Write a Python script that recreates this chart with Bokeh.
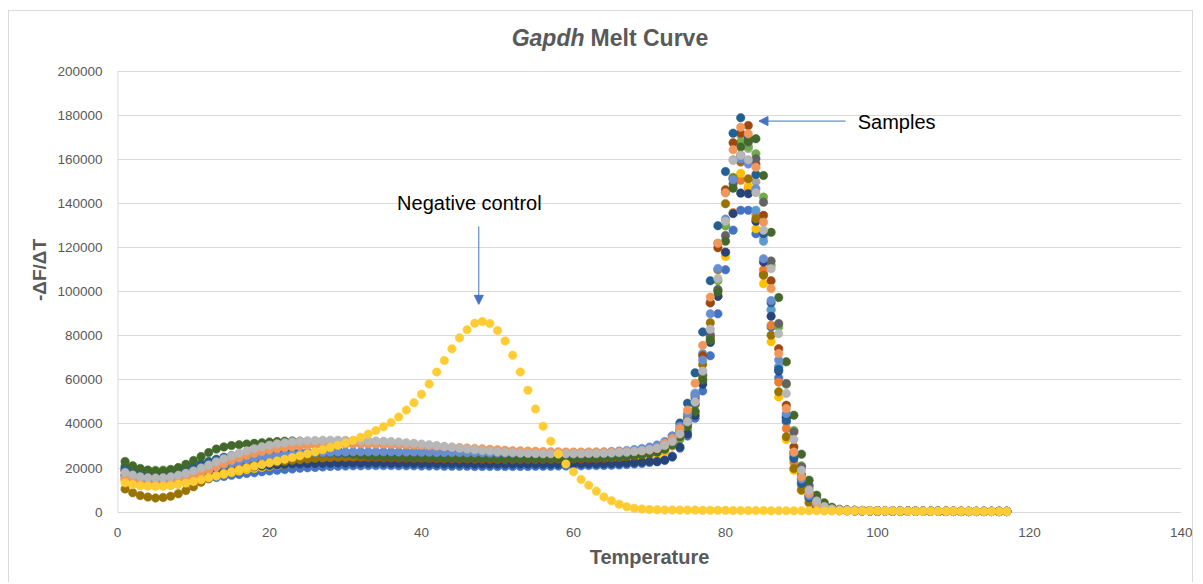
from bokeh.plotting import figure
from bokeh.models import Range1d, FixedTicker, BasicTickFormatter, Label, Arrow, NormalHead
from bokeh.embed import file_html
from bokeh.resources import INLINE

# ---- data (values in thousands of -dF/dT units) ----
temperature = [1, 2, 3, 4, 5, 6, 7, 8, 9, 10, 11, 12, 13, 14, 15, 16, 17, 18, 19, 20,
               21, 22, 23, 24, 25, 26, 27, 28, 29, 30, 31, 32, 33, 34, 35, 36, 37, 38, 39, 40,
               41, 42, 43, 44, 45, 46, 47, 48, 49, 50, 51, 52, 53, 54, 55, 56, 57, 58, 59, 60,
               61, 62, 63, 64, 65, 66, 67, 68, 69, 70, 71, 72, 73, 74, 75, 76, 77, 78, 79, 80,
               81, 82, 83, 84, 85, 86, 87, 88, 89, 90, 91, 92, 93, 94, 95, 96, 97, 98, 99, 100,
               101, 102, 103, 104, 105, 106, 107, 108, 109, 110, 111, 112, 113, 114, 115, 116, 117]

sample01 = [15.0,13.8,13.0,12.5,12.2,12.2,12.4,12.8,13.3,13.9,14.5,15.1,15.7,16.2,16.7,17.1,17.5,17.9,18.3,18.7,19.0,19.3,19.6,19.9,20.1,20.3,20.5,20.7,20.8,20.9,
            21.0,21.0,21.1,21.1,21.1,21.1,21.0,21.0,21.0,20.9,20.9,20.9,20.8,20.8,20.8,20.8,20.7,20.7,20.7,20.7,20.7,20.7,20.7,20.7,20.8,20.8,20.8,20.9,20.9,21.0,21.0,21.1,21.1,21.2,21.3,21.4,21.6,21.8,22.1,22.5,
            22.8,23.6,25.5,29.0,34.5,42.6,55.0,71.0,90.0,110.0,128.0,137.0,137.0,126.4,108.0,84.0,61.0,41.0,25.0,13.5,6.8,3.4,1.8,1.1,0.8,
            0.7,0.6,0.6,0.5,0.5,0.5,0.5,0.4,0.4,0.4,0.4,0.4,0.4,0.3,0.3,0.3,0.3,0.3,0.3,0.3,0.3,0.3]
sample02 = [17.0,15.6,14.7,14.2,14.0,14.0,14.2,14.6,15.1,15.7,16.4,17.1,17.8,18.4,19.0,19.5,20.0,20.4,20.8,21.2,21.5,21.8,22.1,22.3,22.5,22.7,22.8,22.9,23.0,23.0,
            23.0,23.0,23.0,23.0,22.9,22.9,22.8,22.8,22.7,22.7,22.6,22.6,22.5,22.5,22.4,22.4,22.4,22.3,22.3,22.3,22.3,22.3,22.3,22.3,22.3,22.4,22.4,22.5,22.5,22.6,22.7,22.8,22.9,23.0,23.2,23.4,23.7,24.0,24.4,25.0,
            26.0,27.5,30.0,34.0,40.0,49.0,62.0,79.0,98.0,118.0,136.0,150.6,147.0,135.0,110.0,84.8,59.0,38.0,22.5,12.0,6.0,3.0,1.6,1.0,0.8,
            0.8,0.7,0.6,0.6,0.5,0.5,0.5,0.5,0.4,0.4,0.4,0.4,0.4,0.4,0.3,0.3,0.3,0.3,0.3,0.3,0.3,0.3]
sample03 = [18.5,17.2,16.4,16.0,15.9,16.0,16.4,17.0,17.8,18.8,20.0,21.3,22.6,23.8,24.9,25.9,26.8,27.6,28.3,28.9,29.4,29.8,30.1,30.3,30.5,30.6,30.7,30.8,30.8,30.8,
            30.8,30.8,30.7,30.7,30.6,30.5,30.4,30.2,30.0,29.8,29.6,29.4,29.2,29.0,28.8,28.6,28.4,28.2,28.0,27.8,27.6,27.4,27.2,27.0,26.9,26.8,26.7,26.6,26.6,26.6,26.6,26.6,26.7,26.8,26.9,27.0,27.2,27.5,27.9,28.4,
            29.2,30.5,32.5,36.0,42.0,51.0,64.0,81.0,101.0,130.0,160.0,171.0,165.0,150.0,125.0,91.6,66.0,44.0,27.0,15.0,7.5,3.6,1.9,1.2,0.9,
            0.8,0.7,0.7,0.6,0.6,0.5,0.5,0.5,0.5,0.4,0.4,0.4,0.4,0.4,0.4,0.3,0.3,0.3,0.3,0.3,0.3,0.3]
sample04 = [14.0,12.9,12.2,11.9,11.8,11.9,12.2,12.7,13.3,14.0,14.8,15.6,16.4,17.2,17.9,18.6,19.2,19.8,20.3,20.8,21.2,21.6,21.9,22.2,22.4,22.6,22.8,22.9,23.0,23.1,
            23.2,23.2,23.2,23.2,23.2,23.1,23.1,23.0,23.0,22.9,22.9,22.8,22.8,22.7,22.7,22.6,22.6,22.6,22.5,22.5,22.5,22.5,22.5,22.5,22.5,22.5,22.6,22.6,22.7,22.7,22.8,22.9,23.0,23.1,23.3,23.5,23.8,24.1,24.6,25.2,
            26.2,27.8,30.2,34.0,40.0,48.5,61.0,78.0,98.0,116.0,135.6,153.8,148.0,128.6,103.7,77.3,52.3,33.0,19.0,9.8,4.5,2.3,1.3,0.9,0.7,
            0.7,0.6,0.6,0.5,0.5,0.5,0.4,0.4,0.4,0.4,0.4,0.4,0.3,0.3,0.3,0.3,0.3,0.3,0.3,0.3,0.3,0.3]
sample05 = [19.5,18.2,17.3,16.8,16.6,16.7,17.0,17.6,18.4,19.3,20.3,21.3,22.3,23.1,23.8,24.4,24.9,25.3,25.7,26.0,26.3,26.5,26.7,26.8,26.9,27.0,27.1,27.1,27.2,27.2,
            27.2,27.2,27.2,27.2,27.1,27.1,27.0,27.0,26.9,26.9,26.8,26.7,26.7,26.6,26.5,26.5,26.4,26.4,26.3,26.3,26.3,26.2,26.2,26.2,26.2,26.2,26.3,26.3,26.3,26.4,26.5,26.5,26.6,26.8,26.9,27.1,27.4,27.8,28.3,28.9,
            29.8,31.2,33.5,37.5,42.6,54.0,72.0,95.0,122.0,145.0,151.3,160.0,159.6,137.0,123.0,92.0,66.0,43.0,26.0,14.0,7.0,3.4,1.8,1.1,0.8,
            0.8,0.7,0.6,0.6,0.5,0.5,0.5,0.5,0.4,0.4,0.4,0.4,0.4,0.4,0.3,0.3,0.3,0.3,0.3,0.3,0.3,0.3]
sample06 = [21.0,20.0,19.4,19.1,19.0,19.1,19.4,19.9,20.6,21.4,22.2,23.0,23.7,24.3,24.8,25.2,25.5,25.7,25.9,26.0,26.1,26.1,26.1,26.1,26.0,26.0,25.9,25.9,25.8,25.8,
            25.7,25.7,25.6,25.6,25.5,25.5,25.4,25.4,25.3,25.3,25.2,25.2,25.1,25.1,25.0,25.0,24.9,24.9,24.8,24.8,24.8,24.7,24.7,24.7,24.7,24.7,24.7,24.8,24.8,24.9,24.9,25.0,25.1,25.2,25.4,25.6,25.9,26.3,26.8,27.5,
            28.5,29.8,31.2,33.0,37.2,46.0,60.0,80.0,105.0,130.0,152.0,168.0,166.0,162.7,143.0,112.0,84.0,58.0,37.0,21.0,11.0,5.5,2.7,1.5,1.0,
            0.8,0.7,0.7,0.6,0.6,0.5,0.5,0.5,0.5,0.4,0.4,0.4,0.4,0.4,0.4,0.3,0.3,0.3,0.3,0.3,0.3,0.3]
sample07 = [16.5,15.2,14.3,13.8,13.6,13.6,13.9,14.4,15.0,15.7,16.5,17.3,18.0,18.7,19.3,19.8,20.2,20.6,20.9,21.2,21.4,21.6,21.8,21.9,22.0,22.1,22.2,22.2,22.3,22.3,
            22.3,22.3,22.3,22.3,22.3,22.2,22.2,22.2,22.1,22.1,22.0,22.0,22.0,21.9,21.9,21.9,21.8,21.8,21.8,21.8,21.8,21.8,21.8,21.8,21.8,21.8,21.8,21.8,21.8,21.9,21.9,21.9,22.0,22.0,22.1,22.2,22.3,22.5,22.7,23.0,
            23.0,23.5,25.0,29.6,35.5,44.0,58.0,77.0,98.0,118.0,135.5,144.8,144.5,132.0,113.5,88.9,64.0,43.0,27.0,15.0,7.5,3.7,1.9,1.1,0.8,
            0.7,0.6,0.5,0.5,0.5,0.4,0.4,0.4,0.4,0.4,0.4,0.3,0.3,0.3,0.3,0.3,0.3,0.3,0.3,0.3,0.3,0.3]
sample08 = [19.0,17.8,17.0,16.5,16.3,16.4,16.7,17.2,17.9,18.6,19.4,20.2,20.9,21.6,22.2,22.7,23.1,23.5,23.8,24.0,24.2,24.4,24.5,24.6,24.7,24.7,24.8,24.8,24.8,24.8,
            24.8,24.8,24.7,24.7,24.6,24.6,24.5,24.5,24.4,24.4,24.3,24.3,24.2,24.2,24.1,24.1,24.0,24.0,24.0,23.9,23.9,23.9,23.9,23.9,23.9,23.9,23.9,24.0,24.0,24.1,24.1,24.2,24.3,24.4,24.6,24.8,25.1,25.5,26.0,26.7,
            27.6,29.0,31.5,35.5,41.5,52.0,71.0,95.0,120.0,146.3,167.7,172.0,175.5,158.0,134.7,105.0,74.2,48.5,29.6,17.0,9.0,4.4,2.2,1.3,0.9,
            0.8,0.7,0.6,0.6,0.5,0.5,0.5,0.5,0.4,0.4,0.4,0.4,0.4,0.4,0.3,0.3,0.3,0.3,0.3,0.3,0.3,0.3]
sample09 = [19.0,17.6,16.7,16.2,16.0,16.1,16.4,17.0,17.8,18.8,19.9,21.0,22.0,22.8,23.5,24.0,24.4,24.7,24.9,25.1,25.2,25.3,25.4,25.4,25.5,25.5,25.5,25.5,25.5,25.5,
            25.5,25.5,25.4,25.4,25.3,25.3,25.2,25.2,25.1,25.1,25.0,25.0,24.9,24.9,24.8,24.8,24.8,24.7,24.7,24.7,24.7,24.6,24.6,24.6,24.6,24.6,24.6,24.7,24.7,24.8,24.8,24.9,25.0,25.1,25.3,25.5,25.8,26.2,26.7,27.3,
            28.2,29.5,31.5,35.0,40.5,49.0,62.0,80.0,101.0,125.6,149.0,162.0,168.0,160.4,140.7,114.0,85.6,58.4,36.4,20.5,12.2,6.0,3.0,1.6,1.0,
            0.9,0.8,0.7,0.6,0.6,0.5,0.5,0.5,0.5,0.4,0.4,0.4,0.4,0.4,0.4,0.3,0.3,0.3,0.3,0.3,0.3,0.3]
sample10 = [10.5,8.8,7.5,6.8,6.4,6.6,7.2,8.3,9.8,11.5,13.6,15.3,16.8,18.0,19.0,19.8,20.5,21.1,21.7,22.2,22.7,23.1,23.5,23.8,24.1,24.4,24.6,24.8,25.0,25.1,
            25.2,25.3,25.3,25.3,25.3,25.3,25.2,25.2,25.1,25.1,25.0,25.0,24.9,24.9,24.8,24.8,24.7,24.7,24.6,24.6,24.6,24.5,24.5,24.5,24.5,24.5,24.5,24.5,24.6,24.6,24.7,24.8,24.9,25.0,25.2,25.4,25.7,26.1,26.6,27.3,
            28.4,30.0,32.8,37.0,43.5,53.0,67.0,86.0,110.0,140.0,151.5,158.9,151.3,133.2,107.5,80.3,54.6,34.2,19.8,10.0,4.2,2.2,1.2,0.8,0.7,
            0.6,0.5,0.5,0.5,0.4,0.4,0.4,0.4,0.4,0.4,0.3,0.3,0.3,0.3,0.3,0.3,0.3,0.3,0.3,0.3,0.3,0.3]
sample11 = [20.5,19.0,18.0,17.5,17.3,17.4,17.8,18.5,19.4,20.5,21.7,22.9,24.0,24.9,25.6,26.1,26.5,26.8,27.0,27.1,27.2,27.2,27.2,27.2,27.1,27.0,26.9,26.8,26.7,26.6,
            26.5,26.4,26.3,26.2,26.1,26.0,25.9,25.8,25.7,25.6,25.5,25.4,25.3,25.2,25.1,25.0,24.9,24.8,24.8,24.7,24.7,24.6,24.6,24.6,24.6,24.6,24.6,24.7,24.7,24.8,24.9,25.0,25.2,25.4,25.7,26.0,26.4,26.9,27.5,28.2,
            29.0,30.5,34.5,40.4,49.4,63.2,81.8,105.0,130.0,154.6,172.0,179.0,170.0,153.3,126.4,95.0,64.7,41.7,24.3,13.0,6.5,3.2,1.7,1.1,0.8,
            0.7,0.6,0.6,0.5,0.5,0.5,0.5,0.4,0.4,0.4,0.4,0.4,0.4,0.3,0.3,0.3,0.3,0.3,0.3,0.3,0.3,0.3]
sample12 = [23.0,21.0,19.8,19.0,18.6,18.7,19.2,20.2,21.7,23.4,25.2,27.0,28.6,29.6,30.2,30.6,30.9,31.2,31.5,31.8,32.0,32.2,32.3,32.2,31.8,31.0,30.0,28.9,27.9,27.0,
            26.3,25.8,25.5,25.3,25.2,25.1,25.0,25.0,24.9,24.9,24.8,24.8,24.7,24.7,24.6,24.6,24.5,24.5,24.5,24.4,24.4,24.4,24.4,24.4,24.4,24.4,24.4,24.4,24.5,24.5,24.6,24.6,24.7,24.8,24.9,25.1,25.3,25.6,26.0,26.5,
            27.2,28.5,30.5,34.2,39.0,45.5,60.0,78.0,100.0,123.0,147.0,165.7,168.5,169.5,152.8,127.0,97.4,68.2,44.0,26.3,14.5,7.7,4.2,2.2,1.3,
            0.9,0.8,0.7,0.7,0.6,0.6,0.5,0.5,0.5,0.5,0.4,0.4,0.4,0.4,0.4,0.4,0.3,0.3,0.3,0.3,0.3,0.3]
sample13 = [17.0,15.8,15.0,14.5,14.3,14.4,14.7,15.3,16.1,17.1,18.2,19.3,20.4,21.4,22.3,23.1,23.8,24.4,24.9,25.4,25.8,26.1,26.4,26.6,26.8,27.0,27.1,27.2,27.3,27.3,
            27.4,27.4,27.4,27.4,27.4,27.4,27.3,27.3,27.3,27.2,27.2,27.1,27.1,27.0,27.0,26.9,26.9,26.9,26.8,26.8,26.8,26.8,26.8,26.8,26.8,26.8,26.8,26.9,26.9,27.0,27.0,27.1,27.2,27.3,27.5,27.7,28.0,28.4,28.9,29.5,
            30.5,32.0,34.5,39.0,44.5,53.0,69.0,90.0,110.6,133.0,151.0,160.4,158.0,146.8,115.0,96.0,69.0,44.8,27.0,15.0,7.5,3.7,1.9,1.2,0.9,
            0.8,0.7,0.6,0.6,0.5,0.5,0.5,0.5,0.4,0.4,0.4,0.4,0.4,0.4,0.3,0.3,0.3,0.3,0.3,0.3,0.3,0.3]
sample14 = [15.3,14.0,13.2,12.8,12.6,12.7,13.1,13.8,14.8,16.0,17.4,19.0,20.6,22.1,23.5,24.7,25.8,26.7,27.5,28.2,28.8,29.3,29.7,30.0,30.3,30.5,30.7,30.8,30.9,31.0,
            31.0,31.0,31.0,30.9,30.9,30.8,30.7,30.6,30.5,30.3,30.1,29.9,29.7,29.5,29.3,29.1,28.9,28.7,28.5,28.3,28.1,27.9,27.8,27.7,27.6,27.5,27.4,27.4,27.3,27.3,27.3,27.3,27.3,27.3,27.3,27.4,27.5,27.6,27.8,28.2,
            28.9,31.2,33.4,38.0,46.3,58.5,75.7,97.6,122.0,145.0,164.5,174.7,171.7,156.6,131.6,101.5,72.0,47.0,27.3,16.0,8.5,3.9,2.0,1.2,0.9,
            0.8,0.7,0.6,0.6,0.5,0.5,0.5,0.5,0.4,0.4,0.4,0.4,0.4,0.4,0.3,0.3,0.3,0.3,0.3,0.3,0.3,0.3]
sample15 = [18.0,16.8,16.0,15.6,15.5,15.6,16.0,16.7,17.6,18.7,20.0,21.4,22.8,24.2,25.5,26.7,27.8,28.8,29.7,30.4,31.0,31.5,31.9,32.2,32.4,32.5,32.6,32.6,32.6,32.6,
            32.5,32.4,32.4,32.3,32.2,32.0,31.8,31.5,31.2,30.9,30.6,30.2,29.8,29.4,29.0,28.6,28.3,28.0,27.7,27.4,27.2,27.0,26.8,26.7,26.6,26.5,26.5,26.5,26.5,26.5,26.5,26.6,26.6,26.7,26.8,27.0,27.2,27.5,27.9,28.4,
            29.0,30.2,32.0,35.5,41.0,50.0,64.0,83.0,106.0,132.0,159.6,162.0,160.0,145.0,128.0,110.5,81.0,53.8,33.0,19.0,10.0,5.0,2.5,1.4,1.0,
            0.8,0.7,0.7,0.6,0.6,0.5,0.5,0.5,0.5,0.4,0.4,0.4,0.4,0.4,0.4,0.3,0.3,0.3,0.3,0.3,0.3,0.3]
negative_control = [13.3,12.5,12.0,11.8,11.7,11.8,12.1,12.6,13.2,13.9,14.7,15.6,16.5,17.4,18.3,19.2,20.0,20.8,21.6,22.4,23.2,24.0,24.8,25.6,26.5,27.4,28.3,29.3,30.3,31.4,
                    32.6,34.0,35.4,37.0,38.7,40.7,43.2,46.3,49.6,53.5,58.2,63.6,68.8,74.1,79.1,82.8,85.7,86.5,85.6,82.4,77.7,71.2,63.6,55.3,46.8,39.0,32.2,26.4,21.8,18.3,
                    14.8,12.2,9.5,6.9,5.1,3.6,2.4,1.7,1.4,1.2,
                    1.1,1.0,1.0,0.9,0.9,0.9,0.8,0.8,0.8,0.8,0.7,0.7,0.7,0.7,0.7,0.6,0.6,0.6,0.6,0.6,0.6,0.6,0.5,0.5,0.5,0.5,0.5,0.5,0.5,0.5,
                    0.5,0.5,0.4,0.4,0.4,0.4,0.4,0.4,0.4,0.4,0.4,0.4,0.4,0.3,0.3,0.3,0.3]

series = [sample01, sample02, sample03, sample04, sample05, sample06, sample07, sample08,
          sample09, sample10, sample11, sample12, sample13, sample14, sample15, negative_control]
colors = ["#4472C4", "#ED7D31", "#A5A5A5", "#FFC000", "#5B9BD5", "#70AD47", "#264478", "#9E480E",
          "#636363", "#997300", "#255E91", "#43682B", "#698ED0", "#F1975A", "#B7B7B7", "#FFCD33"]

x_ticks = [0, 20, 40, 60, 80, 100, 120, 140]
y_ticks = [0, 20000, 40000, 60000, 80000, 100000, 120000, 140000, 160000, 180000, 200000]

for s in series:
    assert len(s) == len(temperature), len(s)

FONT = "Liberation Sans"
GRAY = "#595959"
AXIS_GRAY = "#d9d9d9"

# the frame extends a little above the value axis so that the title and the
# annotations can be drawn inside the svg frame
p = figure(width=1185, height=572, output_backend="svg", toolbar_location=None,
           x_range=Range1d(0, 140), y_range=Range1d(-2000, 221800),
           min_border_left=108, min_border_right=13, min_border_top=12, min_border_bottom=67,
           margin=(10, 0, 0, 8),
           styles={"border-left": "1px solid #d9d9d9", "border-top": "1px solid #d9d9d9",
                   "border-right": "1px solid #d9d9d9"})
p.outline_line_color = None
p.background_fill_color = "white"
p.border_fill_color = "white"

p.xgrid.grid_line_color = None
p.ygrid.grid_line_color = AXIS_GRAY
p.ygrid.grid_line_width = 1
p.ygrid.ticker = FixedTicker(ticks=y_ticks)

p.xaxis.ticker = FixedTicker(ticks=x_ticks)
p.yaxis.ticker = FixedTicker(ticks=y_ticks)
p.yaxis.formatter = BasicTickFormatter(use_scientific=False)

for ax in (p.xaxis[0], p.yaxis[0]):
    ax.axis_line_color = None
    ax.major_tick_line_color = None
    ax.minor_tick_line_color = None
    ax.major_label_text_font = FONT
    ax.major_label_text_font_size = "13.5px"
    ax.major_label_text_color = GRAY
    ax.axis_label_text_font = FONT
    ax.axis_label_text_font_style = "bold"
    ax.axis_label_text_color = GRAY

p.xaxis.axis_label = "Temperature"
p.xaxis.axis_label_text_font_size = "20px"
p.xaxis.major_label_standoff = 5
p.xaxis.axis_label_standoff = 6
p.yaxis.axis_label = "-ΔF/ΔT"
p.yaxis.axis_label_text_font_size = "19px"
p.yaxis.major_label_standoff = 9
p.yaxis.axis_label_standoff = 4

# value-axis line (from 0 to the top tick only)
p.segment(x0=[x_ticks[0]], y0=[y_ticks[0]], x1=[x_ticks[0]], y1=[y_ticks[-1]],
          line_color=AXIS_GRAY, line_width=2)

for s, c in zip(series, colors):
    p.scatter([t for t in temperature], [v * 1000 for v in s], size=8.5,
              fill_color=c, line_color=c, line_width=0.5)

# title (two parts: italic gene name + bold rest)
p.add_layout(Label(x=61.45, y=215000, text="Gapdh", text_align="right", text_baseline="middle",
                   text_font=FONT, text_font_size="23px", text_font_style="bold italic",
                   text_color=GRAY))
p.add_layout(Label(x=62.25, y=215000, text="Melt Curve", text_align="left", text_baseline="middle",
                   text_font=FONT, text_font_size="23px", text_font_style="bold",
                   text_color=GRAY))

# annotations
ARROW = "#4472C4"
p.add_layout(Label(x=46.3, y=140100, text="Negative control", text_align="center",
                   text_baseline="middle", text_font=FONT, text_font_size="20px",
                   text_color="black"))
p.add_layout(Arrow(end=NormalHead(size=9, fill_color=ARROW, line_color=ARROW),
                   x_start=47.54, y_start=129700, x_end=47.54, y_end=94300,
                   line_color=ARROW, line_width=1))
p.add_layout(Label(x=97.4, y=177100, text="Samples", text_align="left",
                   text_baseline="middle", text_font=FONT, text_font_size="20px",
                   text_color="black"))
p.add_layout(Arrow(end=NormalHead(size=9, fill_color=ARROW, line_color=ARROW),
                   x_start=95.8, y_start=177500, x_end=84.4, y_end=177500,
                   line_color=ARROW, line_width=1))

open("out.html", "w").write(file_html(p, INLINE))
